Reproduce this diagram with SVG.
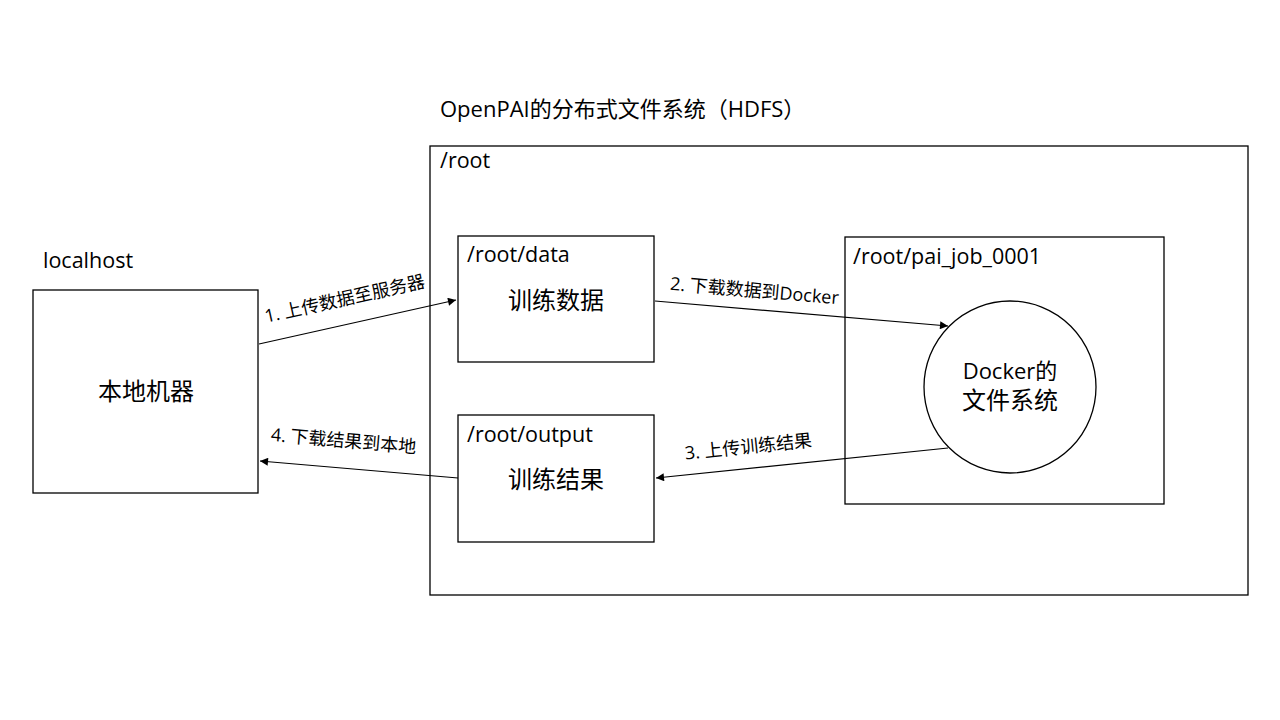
<svg xmlns="http://www.w3.org/2000/svg" width="1280" height="720" viewBox="0 0 1280 720">
<defs>
<style>
text{font-family:"Open Sans","Noto Sans CJK SC","Noto Sans",sans-serif;fill:#000}
.box{fill:#fff;stroke:#000;stroke-width:1.3}
.lbl{font-size:21.5px}
.cn{font-size:24px;text-anchor:middle}
.edge{font-size:18px;text-anchor:middle}
.con{stroke:#000;stroke-width:1.2;fill:none;marker-end:url(#ah)}
</style>
<marker id="ah" viewBox="0 0 10 10" refX="10" refY="5" markerWidth="10" markerHeight="8" markerUnits="userSpaceOnUse" orient="auto">
<path d="M0,0 L10,5 L0,10 z" fill="#000"/>
</marker>
</defs>
<rect width="1280" height="720" fill="#fff"/>
<text x="440" y="117" style="font-size:22px">OpenPAI的分布式文件系统（HDFS）</text>
<g id="hdfs">
<rect class="box" x="430" y="146" width="818" height="449"/>
<text x="440" y="168" class="lbl">/root</text>
</g>
<g id="localhost">
<text x="43" y="268" class="lbl">localhost</text>
<rect class="box" x="33" y="290" width="225" height="203"/>
<text x="146" y="400" class="cn">本地机器</text>
</g>
<g id="data">
<rect class="box" x="458" y="236" width="196" height="126"/>
<text x="467" y="262" class="lbl">/root/data</text>
<text x="556" y="309" class="cn">训练数据</text>
</g>
<g id="output">
<rect class="box" x="458" y="415" width="196" height="127"/>
<text x="467" y="442" class="lbl">/root/output</text>
<text x="556" y="488" class="cn">训练结果</text>
</g>
<g id="job">
<rect class="box" x="845" y="237" width="319" height="267"/>
<text x="853" y="264" class="lbl">/root/pai_job_0001</text>
</g>
<g id="docker">
<circle class="box" cx="1010" cy="387" r="86"/>
<text x="1010" y="379" class="cn" style="font-size:22px">Docker的</text>
<text x="1010" y="409" class="cn">文件系统</text>
</g>
<g id="connectors">
<line class="con" x1="259" y1="344" x2="456" y2="300"/>
<line class="con" x1="655" y1="301" x2="948" y2="326"/>
<line class="con" x1="948" y1="448" x2="656" y2="478"/>
<line class="con" x1="458" y1="478" x2="260" y2="461"/>
<text class="edge" transform="translate(346,305) rotate(-12.6)">1. 上传数据至服务器</text>
<text class="edge" transform="translate(754,297) rotate(4.9)">2. 下载数据到Docker</text>
<text class="edge" transform="translate(749,453) rotate(-5.9)">3. 上传训练结果</text>
<text class="edge" transform="translate(343,447) rotate(4.9)">4. 下载结果到本地</text>
</g>
</svg>
